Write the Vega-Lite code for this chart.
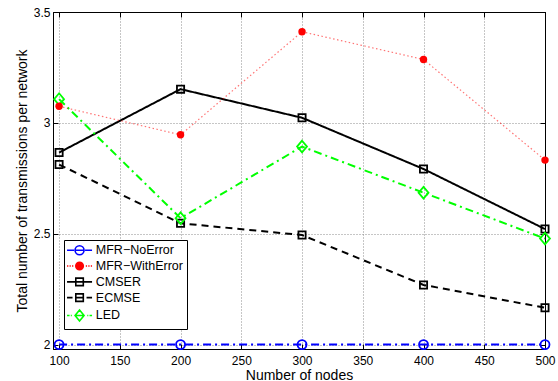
{
  "$schema": "https://vega.github.io/schema/vega-lite/v6.json",
  "width": 492,
  "height": 337,
  "autosize": {"type": "none"},
  "padding": {"left": 53, "top": 12, "right": 13, "bottom": 32},
  "background": "white",
  "config": {
    "view": {"stroke": "black", "strokeWidth": 1},
    "font": "Liberation Sans",
    "axis": {
      "labelFont": "Liberation Sans",
      "titleFont": "Liberation Sans",
      "labelFontSize": 12,
      "titleFontSize": 14,
      "titleFontWeight": "normal",
      "labelColor": "black",
      "titleColor": "black",
      "domainColor": "black",
      "tickColor": "black",
      "labelFlush": false,
      "labelOverlap": false,
      "gridColor": "#8c8c8c",
      "gridDash": [1, 2],
      "gridWidth": 1
    }
  },
  "data": {
    "values": [
      {"series": "MFR−NoError", "nodes": 100, "value": 2.0},
      {"series": "MFR−NoError", "nodes": 200, "value": 2.0},
      {"series": "MFR−NoError", "nodes": 300, "value": 2.0},
      {"series": "MFR−NoError", "nodes": 400, "value": 2.0},
      {"series": "MFR−NoError", "nodes": 500, "value": 2.0},
      {"series": "MFR−WithError", "nodes": 100, "value": 3.075},
      {"series": "MFR−WithError", "nodes": 200, "value": 2.946},
      {"series": "MFR−WithError", "nodes": 300, "value": 3.411},
      {"series": "MFR−WithError", "nodes": 400, "value": 3.286},
      {"series": "MFR−WithError", "nodes": 500, "value": 2.832},
      {"series": "CMSER", "nodes": 100, "value": 2.866},
      {"series": "CMSER", "nodes": 200, "value": 3.152},
      {"series": "CMSER", "nodes": 300, "value": 3.023},
      {"series": "CMSER", "nodes": 400, "value": 2.792},
      {"series": "CMSER", "nodes": 500, "value": 2.521},
      {"series": "ECMSE", "nodes": 100, "value": 2.812},
      {"series": "ECMSE", "nodes": 200, "value": 2.547},
      {"series": "ECMSE", "nodes": 300, "value": 2.494},
      {"series": "ECMSE", "nodes": 400, "value": 2.269},
      {"series": "ECMSE", "nodes": 500, "value": 2.166},
      {"series": "LED", "nodes": 100, "value": 3.107},
      {"series": "LED", "nodes": 200, "value": 2.57},
      {"series": "LED", "nodes": 300, "value": 2.893},
      {"series": "LED", "nodes": 400, "value": 2.685},
      {"series": "LED", "nodes": 500, "value": 2.478}
    ]
  },
  "layer": [
    {
      "transform": [{"filter": "datum.series !== 'MFR−WithError'"}],
      "mark": {"type": "line", "strokeWidth": 2},
      "encoding": {
        "x": {
          "field": "nodes", "type": "quantitative",
          "scale": {"domain": [95, 500], "nice": false, "zero": false},
          "axis": {"orient": "bottom", "values": [100, 150, 200, 250, 300, 350, 400, 450, 500], "title": "Number of nodes", "grid": true, "tickSize": -5, "labelPadding": 11, "titlePadding": 2}
        },
        "y": {
          "field": "value", "type": "quantitative",
          "scale": {"domain": [1.98, 3.5], "nice": false, "zero": false},
          "axis": {"orient": "left", "values": [2, 2.5, 3, 3.5], "format": "~g", "title": "Total number of transmissions per network", "grid": true, "tickSize": -5, "labelPadding": 8, "titlePadding": 4}
        },
        "color": {
          "field": "series", "type": "nominal",
          "scale": {"domain": ["MFR−NoError", "MFR−WithError", "CMSER", "ECMSE", "LED"], "range": ["#0000ff", "#ff0000", "#000000", "#000000", "#00ff00"]},
          "legend": {
            "orient": "none", "legendX": 11, "legendY": 228,
            "title": null,
            "symbolSize": 100,
            "symbolType": {"expr": "datum.value === 'MFR−NoError' ? 'M-2.5,0H-1.1M1.1,0H2.5M-0.9,0H0.9M0.9,0C0.9,0.497 0.497,0.9 0,0.9C-0.497,0.9 -0.9,0.497 -0.9,0C-0.9,-0.497 -0.497,-0.9 0,-0.9C0.497,-0.9 0.9,-0.497 0.9,0Z' : datum.value === 'MFR−WithError' ? 'M-2.5,0H-2.25M-2,0H-1.75M-1.5,0H-1.25M1.25,0H1.5M1.75,0H2M2.25,0H2.5M0.75,0C0.75,0.414 0.414,0.75 0,0.75C-0.414,0.75 -0.75,0.414 -0.75,0C-0.75,-0.414 -0.414,-0.75 0,-0.75C0.414,-0.75 0.75,-0.414 0.75,0Z' : datum.value === 'CMSER' ? 'M-2.5,0H2.5M-0.75,-0.75H0.75V0.75H-0.75Z' : datum.value === 'ECMSE' ? 'M-2.5,0H-1.4M-0.75,0H0.75M1.4,0H2.5M-0.75,-0.75H0.75V0.75H-0.75Z' : 'M-2.5,0H-2M-1.75,0H-1.55M1.55,0H1.75M2,0H2.5M-0.9,0H0.9M0,-1.1L0.9,0L0,1.1L-0.9,0Z'"},
            "symbolFillColor": {"expr": "datum.value === 'MFR−WithError' ? '#ff0000' : 'transparent'"},
            "symbolStrokeWidth": 1.6,
            "symbolOffset": 5.3,
            "rowPadding": 0.8,
            "padding": 4,
            "labelOffset": 10,
            "labelFontSize": 12.5,
            "labelFont": "Liberation Sans",
            "labelColor": "black",
            "strokeColor": "black",
            "fillColor": "white",
            "cornerRadius": 0
          }
        },
        "strokeDash": {
          "field": "series", "type": "nominal",
          "scale": {"domain": ["CMSER", "ECMSE", "LED", "MFR−NoError", "MFR−WithError"], "range": [[1, 0], [7, 5], [8, 4, 2, 4], [8, 4, 2, 4], [1.5, 2.5]]},
          "legend": null
        }
      }
    },
    {
      "transform": [{"filter": "datum.series === 'MFR−WithError'"}],
      "mark": {"type": "line", "strokeWidth": 1.2, "strokeOpacity": 0.55},
      "encoding": {
        "x": {"field": "nodes", "type": "quantitative", "axis": null},
        "y": {"field": "value", "type": "quantitative", "axis": null},
        "color": {"field": "series", "type": "nominal"},
        "strokeDash": {"field": "series", "type": "nominal", "legend": null}
      }
    },
    {
      "transform": [{"filter": "datum.series !== 'MFR−WithError'"}],
      "mark": {"type": "point", "filled": false, "size": 81, "strokeWidth": 1.8, "opacity": 1},
      "encoding": {
        "x": {"field": "nodes", "type": "quantitative", "axis": {"orient": "top", "labels": false, "grid": false, "title": null, "tickSize": -5, "values": [100, 150, 200, 250, 300, 350, 400, 450, 500]}},
        "y": {"field": "value", "type": "quantitative", "axis": {"orient": "right", "labels": false, "grid": false, "title": null, "tickSize": -5, "values": [2, 2.5, 3, 3.5]}},
        "stroke": {
          "field": "series", "type": "nominal",
          "scale": {"domain": ["LED", "CMSER", "ECMSE", "MFR−NoError"], "range": ["#00ff00", "#000000", "#000000", "#0000ff"]},
          "legend": null
        },
        "shape": {
          "field": "series", "type": "nominal",
          "scale": {"domain": ["MFR−NoError", "CMSER", "ECMSE", "LED"], "range": ["circle", "M-0.8,-0.8H0.8V0.8H-0.8Z", "M-0.8,-0.8H0.8V0.8H-0.8Z", "M0,-1.3L1.1,0L0,1.3L-1.1,0Z"]},
          "legend": null
        }
      }
    },
    {
      "transform": [{"filter": "datum.series === 'MFR−WithError'"}],
      "mark": {"type": "point", "filled": true, "size": 55, "shape": "circle", "opacity": 1, "color": "#ff0000"},
      "encoding": {
        "x": {"field": "nodes", "type": "quantitative", "axis": null},
        "y": {"field": "value", "type": "quantitative", "axis": null}
      }
    }
  ],
  "resolve": {"axis": {"x": "independent", "y": "independent"}}
}
